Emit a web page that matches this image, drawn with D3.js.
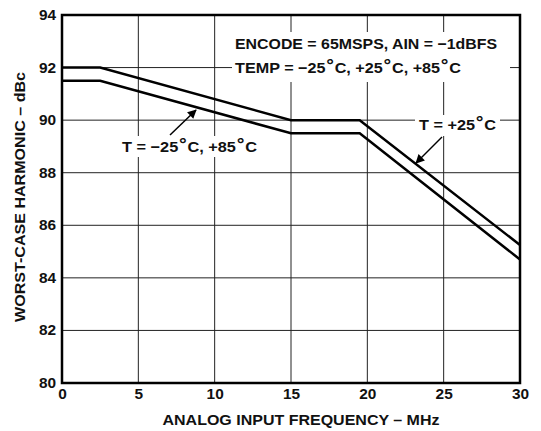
<!DOCTYPE html>
<html>
<head>
<meta charset="utf-8">
<script src="https://cdn.jsdelivr.net/npm/d3@7"></script>
<style>
  body { margin: 0; background: #fff; }
  text { font-family: "Liberation Sans", Arial, sans-serif; font-weight: bold; fill: #111; }
</style>
</head>
<body>
<svg id="chart"></svg>
<script>
// data
var xTicks = [0, 5, 10, 15, 20, 25, 30];
var yTicks = [80, 82, 84, 86, 88, 90, 92, 94];

var freq25 = [0, 2.5, 15, 19.5, 30];
var harm25 = [92, 92, 90, 90, 85.25];

var freqOther = [0, 2.5, 15, 19.5, 30];
var harmOther = [91.5, 91.5, 89.5, 89.5, 84.7];

// dimensions
var W = 541, H = 431;
var margin = { top: 15, right: 21, bottom: 48, left: 62 };
var width = W - margin.left - margin.right;
var height = H - margin.top - margin.bottom;

var svg = d3.select("#chart")
    .attr("width", W)
    .attr("height", H);

var g = svg.append("g")
    .attr("transform", "translate(" + margin.left + "," + margin.top + ")");

// stretch text horizontally (the reference type is a bit wide)
function stretch(sel, k) {
    sel.each(function() {
        var len = this.getComputedTextLength();
        d3.select(this).attr("textLength", len * k).attr("lengthAdjust", "spacingAndGlyphs");
    });
}

// text with heavy raised degree marks
function label(parent, x, y, str) {
    var t = parent.append("text").attr("x", x).attr("y", y).style("font-size", "15px");
    str.split("\u00B0").forEach(function(part, i) {
        if (i > 0) {
            t.append("tspan").attr("dy", -1)
                .style("font-family", "'DejaVu Sans'")
                .style("font-size", "17px")
                .text("\u00B0");
            t.append("tspan").attr("dy", 1).text(part);
        } else {
            t.append("tspan").text(part);
        }
    });
    return t;
}

// scales
var x = d3.scaleLinear().domain([0, 30]).range([0, width]);
var y = d3.scaleLinear().domain([80, 94]).range([height, 0]);

// grid
g.append("g")
    .selectAll("line")
    .data(xTicks.slice(1, -1))
    .enter().append("line")
    .attr("x1", d => x(d)).attr("x2", d => x(d))
    .attr("y1", 0).attr("y2", height)
    .attr("stroke", "#222").attr("stroke-width", 1);

g.append("g")
    .selectAll("line")
    .data(yTicks.slice(1, -1))
    .enter().append("line")
    .attr("y1", d => y(d)).attr("y2", d => y(d))
    .attr("x1", 0).attr("x2", width)
    .attr("stroke", "#222").attr("stroke-width", 1);

// tick labels
var xAxis = g.append("g")
    .attr("transform", "translate(0," + height + ")")
    .call(d3.axisBottom(x).tickValues(xTicks).tickSize(0).tickPadding(6));
xAxis.select(".domain").remove();
xAxis.selectAll("text").style("font-size", "14px").attr("fill", "#111").call(stretch, 1.1);

var yAxis = g.append("g")
    .call(d3.axisLeft(y).tickValues(yTicks).tickSize(0).tickPadding(6));
yAxis.select(".domain").remove();
yAxis.selectAll("text").style("font-size", "14px").attr("fill", "#111").call(stretch, 1.1);

// white boxes behind the annotations
var boxes = [
    [232, 32, 278, 50],
    [415, 115, 85, 21],
    [118, 136, 144, 21]
];
svg.append("g")
    .selectAll("rect")
    .data(boxes)
    .enter().append("rect")
    .attr("x", d => d[0]).attr("y", d => d[1])
    .attr("width", d => d[2]).attr("height", d => d[3])
    .attr("fill", "#fff");

// lines
var line = d3.line()
    .x(d => x(d[0]))
    .y(d => y(d[1]));

g.append("path")
    .datum(d3.zip(freq25, harm25))
    .attr("d", line)
    .attr("fill", "none")
    .attr("stroke", "#000")
    .attr("stroke-width", 2.5);

g.append("path")
    .datum(d3.zip(freqOther, harmOther))
    .attr("d", line)
    .attr("fill", "none")
    .attr("stroke", "#000")
    .attr("stroke-width", 2.5);

// frame
g.append("rect")
    .attr("width", width).attr("height", height)
    .attr("fill", "none")
    .attr("stroke", "#000")
    .attr("stroke-width", 2.5);

// annotation text
label(svg, 235, 49, "ENCODE = 65MSPS, AIN = \u22121dBFS")
    .attr("textLength", 262).attr("lengthAdjust", "spacingAndGlyphs");
label(svg, 235, 73, "TEMP = \u221225\u00B0C, +25\u00B0C, +85\u00B0C")
    .attr("textLength", 226).attr("lengthAdjust", "spacingAndGlyphs");
label(svg, 419, 130, "T = +25\u00B0C")
    .attr("textLength", 77).attr("lengthAdjust", "spacingAndGlyphs");
label(svg, 122, 152, "T = \u221225\u00B0C, +85\u00B0C")
    .attr("textLength", 135).attr("lengthAdjust", "spacingAndGlyphs");

// arrows
svg.append("defs").append("marker")
    .attr("id", "arrow")
    .attr("viewBox", "0 0 10 10")
    .attr("refX", 9).attr("refY", 5)
    .attr("markerWidth", 12).attr("markerHeight", 9)
    .attr("markerUnits", "userSpaceOnUse")
    .attr("orient", "auto")
    .append("path")
    .attr("d", "M0,0 L10,5 L0,10 z")
    .attr("fill", "#000");

svg.append("line")
    .attr("x1", 442).attr("y1", 137)
    .attr("x2", 416).attr("y2", 163)
    .attr("stroke", "#000").attr("stroke-width", 1.5)
    .attr("marker-end", "url(#arrow)");

svg.append("line")
    .attr("x1", 170).attr("y1", 135)
    .attr("x2", 196).attr("y2", 110)
    .attr("stroke", "#000").attr("stroke-width", 1.5)
    .attr("marker-end", "url(#arrow)");

// axis titles
svg.append("text")
    .attr("x", 301)
    .attr("y", 425)
    .attr("text-anchor", "middle")
    .style("font-size", "14px")
    .text("ANALOG INPUT FREQUENCY \u2013 MHz")
    .attr("textLength", 277).attr("lengthAdjust", "spacingAndGlyphs");

svg.append("text")
    .attr("transform", "translate(25,197) rotate(-90)")
    .attr("text-anchor", "middle")
    .style("font-size", "14px")
    .text("WORST-CASE HARMONIC \u2013 dBc")
    .attr("textLength", 250).attr("lengthAdjust", "spacingAndGlyphs");
</script>
</body>
</html>
